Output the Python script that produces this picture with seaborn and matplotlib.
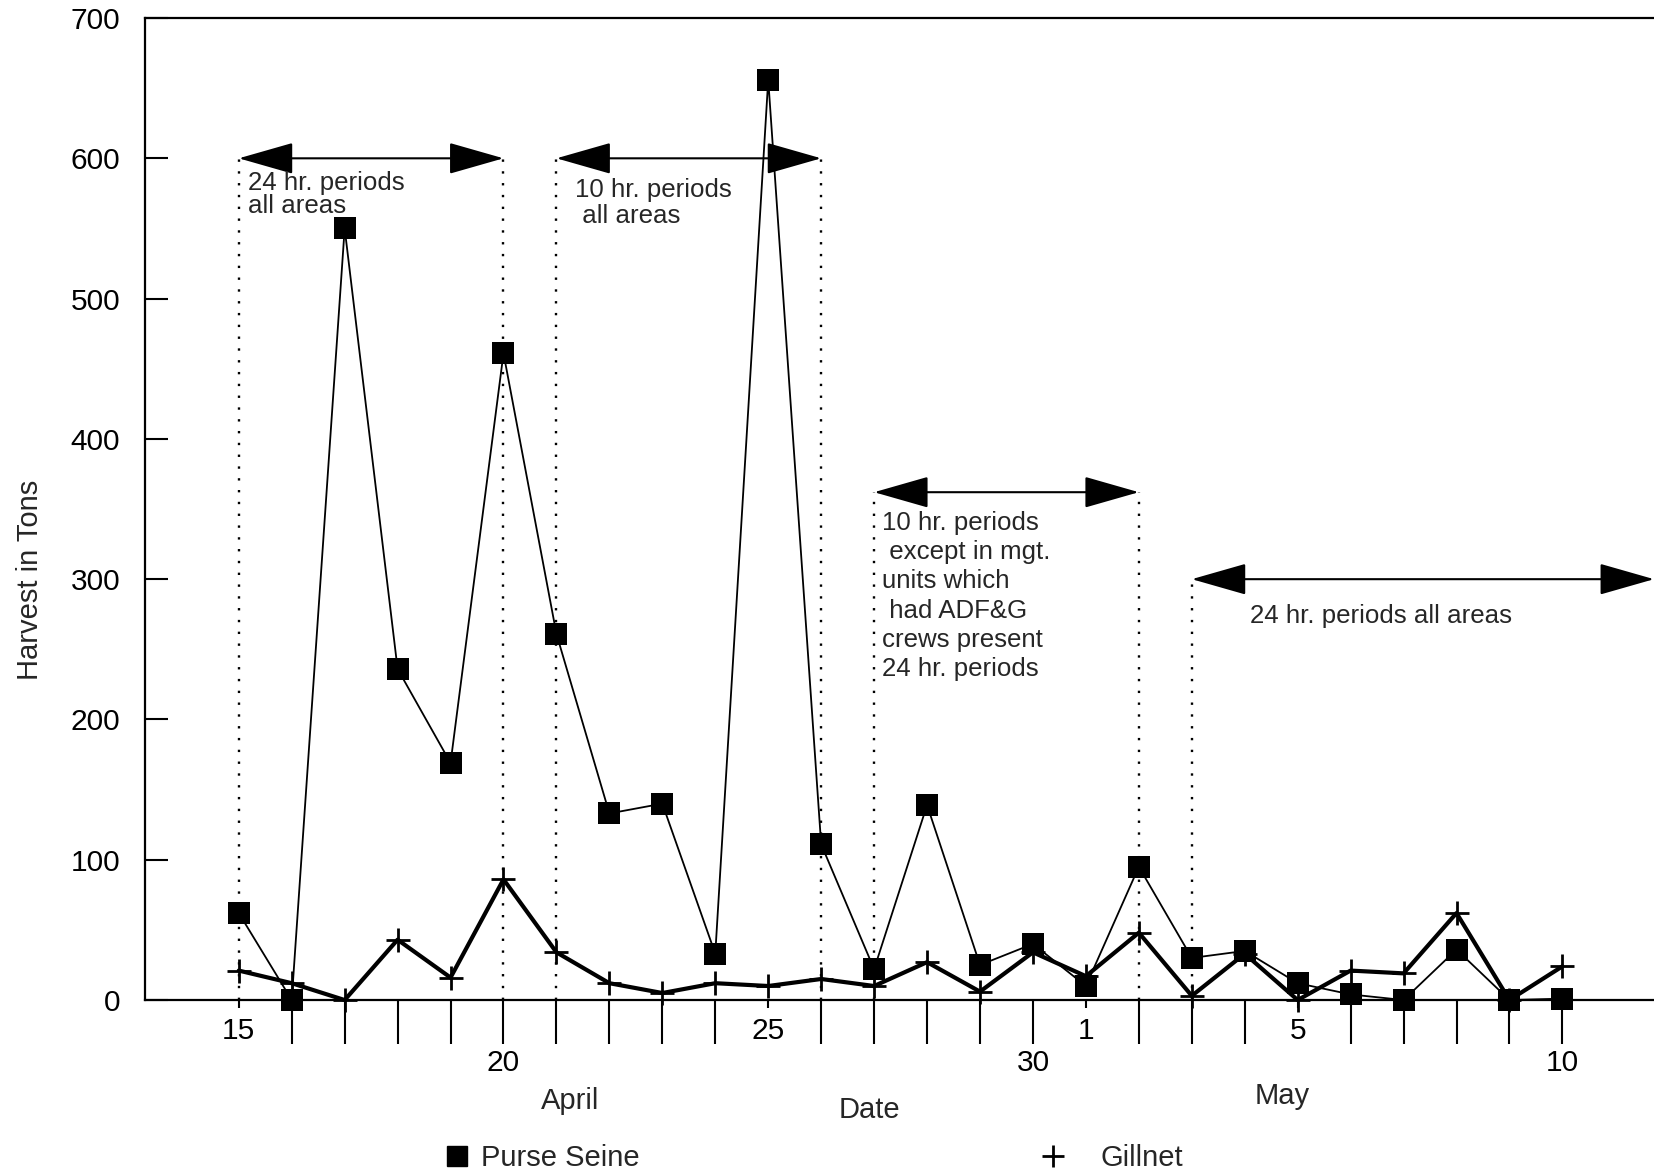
import numpy as np
import pandas as pd
import matplotlib
matplotlib.use("Agg")
import matplotlib.pyplot as plt
import seaborn as sns
from matplotlib.lines import Line2D

# jours de la saison : 15 -> 30 avril puis 1 -> 10 mai
days = [15, 16, 17, 18, 19, 20, 21, 22, 23, 24, 25, 26, 27, 28, 29, 30,
        1, 2, 3, 4, 5, 6, 7, 8, 9, 10]

# captures en tonnes
purse_seine = [62, 0, 550, 236, 169, 461, 261, 133, 140, 33, 656, 111, 22,
               139, 25, 40, 10, 95, 30, 35, 12, 4, 0, 36, 0, 1]
gillnet = [21, 12, 0, 43, 16, 86, 34, 12, 5, 12, 10, 15, 10, 27, 6, 34,
           17, 48, 3, 33, 0, 21, 19, 62, 0, 24]

# etiquettes de l'axe x (deux rangees)
upper_row = [15, 25, 1, 5]
lower_row = [20, 30, 10]

# periodes de peche (jour debut, jour fin, niveau de la fleche, texte)
period_start = [15, 21, 27, 3]
period_end = [20, 26, 2, None]
period_level = [600, 600, 362, 300]
period_text = ["24 hr. periods\nall areas",
               "10 hr. periods\n all areas",
               "10 hr. periods\n except in mgt.\nunits which\n had ADF&G\ncrews present\n24 hr. periods",
               "24 hr. periods all areas"]

sns.set_theme(style="ticks")
plt.rcParams['font.family'] = ['Liberation Sans', 'DejaVu Sans']

x = np.arange(len(days))
df = pd.DataFrame({"pos": x, "Purse Seine": purse_seine, "Gillnet": gillnet})

fig = plt.figure(figsize=(16.54, 11.71), dpi=100)
ax = fig.add_axes([0.0877, 0.146, 0.9123, 0.8386])
xmax = 26.73
ax.set_xlim(-1.77, xmax)
ax.set_ylim(0, 700)

# lignes pointillees + fleches des periodes
text_off = [(0.18, 574), (0.35, 568), (0.15, 288), (1.1, 274)]
text_ls = [0.93, 1.13, 1.28, 1.2]
for i in range(len(period_start)):
    x0 = days.index(period_start[i])
    x1 = days.index(period_end[i]) if period_end[i] is not None else xmax
    lvl = period_level[i]
    for xv in [x0, x1]:
        if xv == xmax:
            continue
        ax.plot([xv, xv], [0, lvl], color='black', lw=1.7,
                linestyle=(0, (1, 4)), zorder=1)
    ax.annotate('', xy=(x1, lvl), xytext=(x0, lvl),
                arrowprops=dict(arrowstyle='<|-|>,head_length=1.75,head_width=0.5',
                                mutation_scale=20, color='black', lw=1.5,
                                shrinkA=0, shrinkB=0))
    dx, ty = text_off[i]
    ax.text(x0 + dx, ty, period_text[i], fontsize=18.6, ha='left', va='center',
            linespacing=text_ls[i])

sns.lineplot(data=df, x="pos", y="Gillnet", color='black', lw=3,
             marker='+', markersize=17, markeredgewidth=2,
             markeredgecolor='black', ax=ax, clip_on=False, zorder=3)
sns.lineplot(data=df, x="pos", y="Purse Seine", color='black', lw=1.3,
             marker='s', markersize=16, markeredgewidth=0, ax=ax,
             clip_on=False, zorder=4)

# axes
for s in ['left', 'top', 'bottom']:
    ax.spines[s].set_linewidth(1.6)
    ax.spines[s].set_color('black')
ax.spines['right'].set_visible(False)

ax.set_yticks(range(0, 701, 100))
ax.tick_params(axis='y', direction='in', length=16.5, width=1.5, pad=18,
               labelsize=21.5, colors='black')

ax.set_xticks([days.index(d) for d in upper_row])
ax.set_xticklabels([str(d) for d in upper_row])
minor_pos = [i for i in x if days[i] not in upper_row]
ax.set_xticks(minor_pos, minor=True)
ax.set_xticklabels([str(days[i]) if days[i] in lower_row else '' for i in minor_pos],
                   minor=True)
ax.tick_params(axis='x', which='major', direction='out', length=6, width=1.5,
               pad=6.5, labelsize=21.5, colors='black')
ax.tick_params(axis='x', which='minor', direction='out', length=32, width=1.5,
               pad=3.5, labelsize=21.5, colors='black')

ax.set_ylabel('Harvest in Tons', fontsize=21)
ax.yaxis.set_label_coords(-0.0673, 0.428)
ax.set_xlabel('Date', fontsize=21, va='center')
ax.xaxis.set_label_coords(0.480, -0.112)
ax.text(0.2816, -0.1028, 'April', transform=ax.transAxes, fontsize=21,
        ha='center', va='center')
ax.text(0.7535, -0.0977, 'May', transform=ax.transAxes, fontsize=21,
        ha='center', va='center')

# legende
h1 = Line2D([], [], color='black', marker='s', markersize=15, linestyle='none')
h2 = Line2D([], [], color='black', marker='+', markersize=16,
            markeredgewidth=2, linestyle='none')
fig.legend([h1], ['Purse Seine'], loc='center left', bbox_to_anchor=(0.269, 0.011),
           frameon=False, fontsize=21, handlelength=0.8, handletextpad=0.42,
           borderpad=0, borderaxespad=0)
fig.legend([h2], ['Gillnet'], loc='center left', bbox_to_anchor=(0.6294, 0.011),
           frameon=False, fontsize=21, handlelength=0.8, handletextpad=1.25,
           borderpad=0, borderaxespad=0)

fig.savefig('out.png', dpi=100)
